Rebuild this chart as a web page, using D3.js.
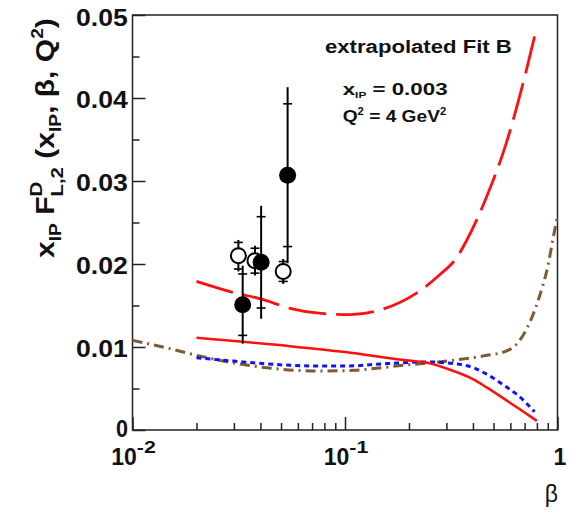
<!DOCTYPE html>
<html><head><meta charset="utf-8">
<script src="https://cdn.jsdelivr.net/npm/d3@7"></script>
<style>
body{margin:0;background:#fff}
text{font-family:"Liberation Sans",Arial,Helvetica,sans-serif;font-weight:bold;fill:#111}
</style>
</head><body>
<svg id="chart" width="576" height="515"></svg>
<script>
// ---------- data ----------
const yTicks = [0, 0.01, 0.02, 0.03, 0.04, 0.05];
const yTickLabels = ["0", "0.01", "0.02", "0.03", "0.04", "0.05"];
const yMinorTicks = [0.005, 0.015, 0.025, 0.035, 0.045];
const xTicks = [0.01, 0.1, 1];
const xTickBase = ["10", "10", "1"];
const xTickExp = ["-2", "-1", ""];
const xMinorTicks = [0.02,0.03,0.04,0.05,0.06,0.07,0.08,0.09,0.2,0.3,0.4,0.5,0.6,0.7,0.8,0.9];

// red long-dashed curve
const longDashBeta = [0.02, 0.0285, 0.0413, 0.0551, 0.0737, 0.1056, 0.146, 0.217, 0.279, 0.336, 0.373, 0.464, 0.573, 0.70, 0.79];
const longDashVal  = [0.0179, 0.0167, 0.0157, 0.01466, 0.0141, 0.0139, 0.01446, 0.0165, 0.0187, 0.0208, 0.0228, 0.0281, 0.0345, 0.0425, 0.0480];
// red solid curve
const solidBeta = [0.02, 0.0551, 0.1, 0.21, 0.233, 0.325, 0.402, 0.466, 0.573, 0.665, 0.80];
const solidVal  = [0.0111, 0.0101, 0.0094, 0.0083, 0.0082, 0.0071, 0.0061, 0.0051, 0.0036, 0.0025, 0.0011];
// blue dotted curve
const dotBeta = [0.02, 0.03, 0.041, 0.076, 0.1, 0.156, 0.24, 0.325, 0.402, 0.466, 0.573, 0.65, 0.78];
const dotVal  = [0.0087, 0.0083, 0.0080, 0.0077, 0.0077, 0.0080, 0.0082, 0.0080, 0.0075, 0.0067, 0.0052, 0.0042, 0.0022];
// brown dash-dotted curve
const dashDotBeta = [0.01, 0.015, 0.02, 0.037, 0.076, 0.11, 0.188, 0.325, 0.466, 0.573, 0.65, 0.71, 0.82, 0.90, 0.96, 1.0];
const dashDotVal  = [0.0108, 0.0098, 0.0090, 0.0077, 0.0071, 0.0072, 0.0078, 0.0084, 0.0090, 0.0095, 0.0105, 0.0120, 0.0160, 0.0197, 0.0235, 0.0258];

// data points
const filledBeta = [0.0330, 0.0403, 0.0537];
const filledVal  = [0.0151, 0.0202, 0.0307];
const filledStat = [0.0037, 0.0055, 0.0086];
const filledTot  = [0.0047, 0.0068, 0.0106];
const openBeta = [0.0315, 0.0377, 0.0512];
const openVal  = [0.0210, 0.0204, 0.0191];
const openStat = [0.0016, 0.0015, 0.0012];
const openTot  = [0.0019, 0.0018, 0.0015];

// ---------- layout ----------
const svg = d3.select("#chart");
svg.append("rect").attr("width",576).attr("height",515).attr("fill","#fff");
const x = d3.scaleLog().domain([0.01, 1]).range([132.5, 557.5]);
const y = d3.scaleLinear().domain([0, 0.05]).range([430, 15]);

// ticks via axes (inward)
const gy = svg.append("g").attr("transform", `translate(${x(0.01)},0)`)
  .call(d3.axisRight(y).tickValues(yTicks).tickSize(13).tickFormat(""));
const gym = svg.append("g").attr("transform", `translate(${x(0.01)},0)`)
  .call(d3.axisRight(y).tickValues(yMinorTicks).tickSize(7).tickFormat(""));
const gx = svg.append("g").attr("transform", `translate(0,${y(0)})`)
  .call(d3.axisTop(x).tickValues(xTicks).tickSize(13).tickFormat(""));
const gxm = svg.append("g").attr("transform", `translate(0,${y(0)})`)
  .call(d3.axisTop(x).tickValues(xMinorTicks).tickSize(7).tickFormat(""));
[gy, gym, gx, gxm].forEach(g => {
  g.select(".domain").remove();
  g.selectAll("line").attr("stroke", "#222").attr("stroke-width", 1.5);
});

// frame
svg.append("rect").attr("x", x(0.01)).attr("y", y(0.05))
  .attr("width", x(1) - x(0.01)).attr("height", y(0) - y(0.05))
  .attr("fill", "none").attr("stroke", "#222").attr("stroke-width", 1.5);

// helper: text with pieces, scaled to target width
function richText(pieces, px, py, targetW, anchor, rotate, regular) {
  const g = svg.append("g");
  const t = g.append("text").attr("x", 0).attr("y", 0);
  if (regular) t.style("font-weight", "normal");
  const nodes = pieces.map(p => {
    const s = t.append("tspan").text(p.t).attr("font-size", p.size);
    if (p.dy) s.attr("dy", p.dy);
    return s;
  });
  pieces.forEach((p, i) => {
    if (p.back !== undefined) {
      nodes[i].attr("dx", -nodes[p.back].node().getComputedTextLength());
    }
  });
  const bb = t.node().getBBox();
  const w = bb.width;
  const sx = targetW ? targetW / w : 1;
  let off = 0;
  if (anchor === "middle") off = -w / 2;
  if (anchor === "end") off = -w;
  t.attr("x", off - bb.x);
  const rot = rotate ? ` rotate(${rotate})` : "";
  g.attr("transform", `translate(${px},${py})${rot} scale(${sx},1)`);
  return g;
}

// y tick labels
const yLabOffset = [-1, 2, 2, 2, 2, 3];
yTicks.forEach((v, i) => {
  const w = yTickLabels[i].length === 1 ? 12 : 52;
  richText([{t: yTickLabels[i], size: 23}], 128, y(v) + yLabOffset[i] + 8.3, w, "end");
});

// x tick labels
xTicks.forEach((v, i) => {
  if (xTickExp[i]) {
    const g = svg.append("g");
    const base = g.append("text").attr("font-size", 23).text(xTickBase[i]);
    const bw = base.node().getComputedTextLength();
    const ex = g.append("text").attr("font-size", 16).attr("x", bw).attr("y", -12).text(xTickExp[i]);
    ex.attr("textLength", 19).attr("lengthAdjust", "spacingAndGlyphs");
    const tw = bw + 19;
    g.attr("transform", `translate(${x(v) - tw / 2 + 1},465)`);
  } else {
    richText([{t: xTickBase[i], size: 23}], x(v) + 2.5, 465, null, "middle");
  }
});

// axis titles
richText([{t: "β", size: 23}], 558, 502, null, "end", 0, true);

richText([
  {t: "x", size: 25},
  {t: "IP", size: 16, dy: 7},
  {t: " F", size: 25, dy: -7},
  {t: "D", size: 17, dy: -12},
  {t: "L,2", size: 17, dy: 21, back: 3},
  {t: " (x", size: 25, dy: -9},
  {t: "IP", size: 16, dy: 7},
  {t: ", β, Q", size: 25, dy: -7},
  {t: "2", size: 16, dy: -11},
  {t: ")", size: 25, dy: 11}
], 53.5, 258, 240, "start", -90);

// annotations
richText([{t: "extrapolated Fit B", size: 18}], 325, 53, 187, "start");
richText([
  {t: "x", size: 17},
  {t: "IP", size: 9, dy: 3},
  {t: " = 0.003", size: 17, dy: -3}
], 342.7, 95, 105, "start");
richText([
  {t: "Q", size: 17},
  {t: "2", size: 10, dy: -7},
  {t: " = 4 GeV", size: 17, dy: 7},
  {t: "2", size: 10, dy: -7}
], 342.7, 121.7, 104, "start");

// ---------- curves ----------
const line = d3.line().x(d => x(d[0])).y(d => y(d[1])).curve(d3.curveMonotoneX);
const zip = (a, b) => a.map((v, i) => [v, b[i]]);
svg.append("path").attr("d", line(zip(dashDotBeta, dashDotVal)))
  .attr("fill", "none").attr("stroke", "#7d5b33").attr("stroke-width", 3)
  .attr("stroke-dasharray", "10,5,2,5");
svg.append("path").attr("d", line(zip(dotBeta, dotVal)))
  .attr("fill", "none").attr("stroke", "#1010ff").attr("stroke-width", 3)
  .attr("stroke-dasharray", "5,4");
svg.append("path").attr("d", line(zip(solidBeta, solidVal)))
  .attr("fill", "none").attr("stroke", "#ff1010").attr("stroke-width", 2.5);
svg.append("path").attr("d", line(zip(longDashBeta, longDashVal)))
  .attr("fill", "none").attr("stroke", "#ff1010").attr("stroke-width", 2.8)
  .attr("stroke-dasharray", "38,10");

// ---------- points ----------
function errBars(betas, vals, stat, tot) {
  betas.forEach((b, i) => {
    const cx = x(b);
    svg.append("line").attr("x1", cx).attr("x2", cx)
      .attr("y1", y(vals[i] + tot[i])).attr("y2", y(vals[i] - tot[i]))
      .attr("stroke", "#000").attr("stroke-width", 2);
    [vals[i] + stat[i], vals[i] - stat[i]].forEach(v => {
      svg.append("line").attr("x1", cx - 4.5).attr("x2", cx + 4.5)
        .attr("y1", y(v)).attr("y2", y(v))
        .attr("stroke", "#000").attr("stroke-width", 1.6);
    });
  });
}
errBars(openBeta, openVal, openStat, openTot);
errBars(filledBeta, filledVal, filledStat, filledTot);
openBeta.forEach((b, i) => {
  svg.append("circle").attr("cx", x(b)).attr("cy", y(openVal[i])).attr("r", 7.5)
    .attr("fill", "#fff").attr("stroke", "#000").attr("stroke-width", 2);
});
filledBeta.forEach((b, i) => {
  svg.append("circle").attr("cx", x(b)).attr("cy", y(filledVal[i])).attr("r", 8.5)
    .attr("fill", "#000");
});
</script>
</body></html>
